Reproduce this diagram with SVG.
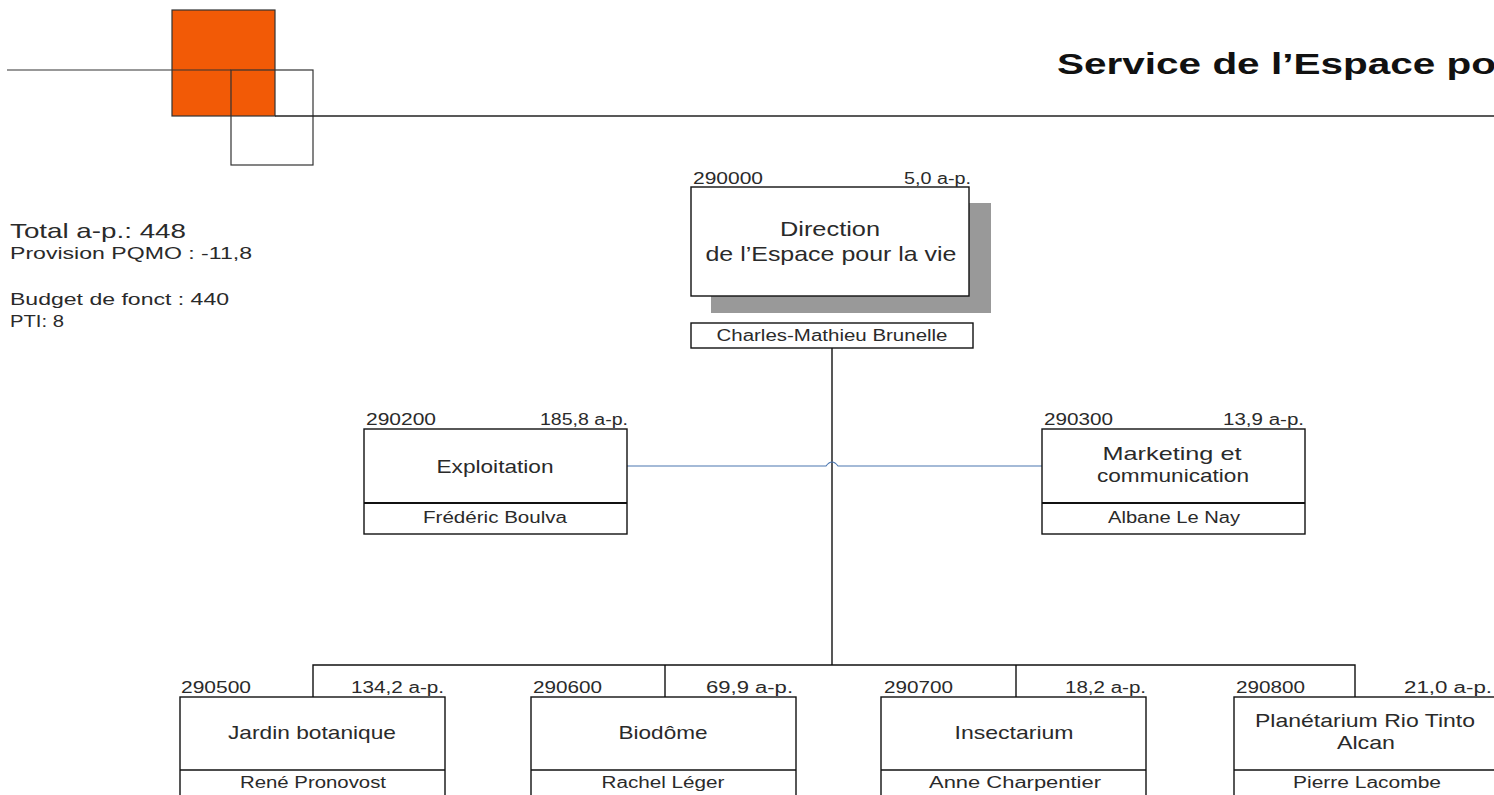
<svg xmlns="http://www.w3.org/2000/svg" width="1494" height="795" viewBox="0 0 1494 795">
<style>
text{font-family:"Liberation Sans",Arial,sans-serif;fill:#2a2a2a}
.box{fill:#fff;stroke:#111;stroke-width:1.4}
.ln{stroke:#111;stroke-width:1.4;fill:none}
.lbl{font-size:16px}
.t{font-size:19px;text-anchor:middle}
.n{font-size:16px;text-anchor:middle}
.r{text-anchor:end}
</style>
<rect width="1494" height="795" fill="#fff"/>
<g id="logo">
<rect x="172" y="10" width="103" height="106" fill="#f25a06" stroke="#333" stroke-width="1.2"/>
<rect x="231" y="70" width="82" height="95" fill="none" stroke="#333" stroke-width="1.2"/>
<line x1="7" y1="70" x2="231" y2="70" stroke="#333" stroke-width="1.2"/>
<line x1="275" y1="116" x2="1494" y2="116" stroke="#222" stroke-width="1.4"/>
</g>
<text x="1057" y="74" style="font-size:30px;font-weight:bold;fill:#111" textLength="439" lengthAdjust="spacingAndGlyphs">Service de l’Espace po</text>
<g id="summary">
<text x="10" y="238" style="font-size:21px" textLength="176" lengthAdjust="spacingAndGlyphs">Total a-p.: 448</text>
<text x="10" y="259" style="font-size:17px" textLength="242" lengthAdjust="spacingAndGlyphs">Provision PQMO : -11,8</text>
<text x="10" y="305" style="font-size:17px" textLength="219" lengthAdjust="spacingAndGlyphs">Budget de fonct : 440</text>
<text x="10" y="327" style="font-size:17px" textLength="54" lengthAdjust="spacingAndGlyphs">PTI: 8</text>
</g>
<g id="connectors">
<line class="ln" x1="832" y1="348" x2="832" y2="665"/>
<polyline class="ln" points="313,697 313,665 1355,665 1355,697"/>
<line class="ln" x1="665" y1="665" x2="665" y2="697"/>
<line class="ln" x1="1016" y1="665" x2="1016" y2="697"/>
<path d="M627,466 H826 Q832,458 838,466 H1042" fill="none" stroke="#4a76b0" stroke-width="1.2"/>
</g>
<g id="n290000">
<rect x="711" y="203" width="280" height="110" fill="#999"/>
<rect class="box" x="691" y="187" width="278" height="109"/>
<text x="693" y="184" class="lbl" textLength="70" lengthAdjust="spacingAndGlyphs">290000</text>
<text x="971" y="184" class="lbl r" textLength="67" lengthAdjust="spacingAndGlyphs">5,0 a-p.</text>
<text x="830" y="236" class="t" style="font-size:21px" textLength="100" lengthAdjust="spacingAndGlyphs">Direction</text>
<text x="831" y="261" class="t" style="font-size:21px" textLength="251" lengthAdjust="spacingAndGlyphs">de l’Espace pour la vie</text>
<rect class="box" x="691" y="323" width="282" height="25"/>
<text x="832" y="341" class="n" textLength="231" lengthAdjust="spacingAndGlyphs">Charles-Mathieu Brunelle</text>
</g>
<g id="n290200">
<rect class="box" x="364" y="429" width="263" height="105"/>
<line x1="364" y1="503" x2="627" y2="503" stroke="#111" stroke-width="2.2"/>
<text x="366" y="425" class="lbl" textLength="70" lengthAdjust="spacingAndGlyphs">290200</text>
<text x="628" y="425" class="lbl r" textLength="88" lengthAdjust="spacingAndGlyphs">185,8 a-p.</text>
<text x="495" y="473" class="t" textLength="117" lengthAdjust="spacingAndGlyphs">Exploitation</text>
<text x="495" y="523" class="n" textLength="144" lengthAdjust="spacingAndGlyphs">Frédéric Boulva</text>
</g>
<g id="n290300">
<rect class="box" x="1042" y="429" width="263" height="105"/>
<line x1="1042" y1="503" x2="1305" y2="503" stroke="#111" stroke-width="2.2"/>
<text x="1044" y="425" class="lbl" textLength="69" lengthAdjust="spacingAndGlyphs">290300</text>
<text x="1304" y="425" class="lbl r" textLength="81" lengthAdjust="spacingAndGlyphs">13,9 a-p.</text>
<text x="1172" y="460" class="t" textLength="139" lengthAdjust="spacingAndGlyphs">Marketing et</text>
<text x="1173" y="482" class="t" textLength="152" lengthAdjust="spacingAndGlyphs">communication</text>
<text x="1174" y="523" class="n" textLength="132" lengthAdjust="spacingAndGlyphs">Albane Le Nay</text>
</g>
<g id="n290500">
<rect class="box" x="180" y="697" width="265" height="110"/>
<line class="ln" x1="180" y1="770" x2="445" y2="770"/>
<text x="181" y="693" class="lbl" textLength="70" lengthAdjust="spacingAndGlyphs">290500</text>
<text x="444" y="693" class="lbl r" textLength="93" lengthAdjust="spacingAndGlyphs">134,2 a-p.</text>
<text x="312" y="739" class="t" textLength="168" lengthAdjust="spacingAndGlyphs">Jardin botanique</text>
<text x="313" y="788" class="n" textLength="146" lengthAdjust="spacingAndGlyphs">René Pronovost</text>
</g>
<g id="n290600">
<rect class="box" x="531" y="697" width="265" height="110"/>
<line class="ln" x1="531" y1="770" x2="796" y2="770"/>
<text x="533" y="693" class="lbl" textLength="69" lengthAdjust="spacingAndGlyphs">290600</text>
<text x="793" y="693" class="lbl r" textLength="87" lengthAdjust="spacingAndGlyphs">69,9 a-p.</text>
<text x="663" y="739" class="t" textLength="89" lengthAdjust="spacingAndGlyphs">Biodôme</text>
<text x="663" y="788" class="n" textLength="123" lengthAdjust="spacingAndGlyphs">Rachel Léger</text>
</g>
<g id="n290700">
<rect class="box" x="881" y="697" width="265" height="110"/>
<line class="ln" x1="881" y1="770" x2="1146" y2="770"/>
<text x="884" y="693" class="lbl" textLength="69" lengthAdjust="spacingAndGlyphs">290700</text>
<text x="1146" y="693" class="lbl r" textLength="81" lengthAdjust="spacingAndGlyphs">18,2 a-p.</text>
<text x="1014" y="739" class="t" textLength="119" lengthAdjust="spacingAndGlyphs">Insectarium</text>
<text x="1015" y="788" class="n" textLength="172" lengthAdjust="spacingAndGlyphs">Anne Charpentier</text>
</g>
<g id="n290800">
<rect class="box" x="1234" y="697" width="265" height="110"/>
<line class="ln" x1="1234" y1="770" x2="1499" y2="770"/>
<text x="1236" y="693" class="lbl" textLength="69" lengthAdjust="spacingAndGlyphs">290800</text>
<text x="1492" y="693" class="lbl r" textLength="88" lengthAdjust="spacingAndGlyphs">21,0 a-p.</text>
<text x="1365" y="727" class="t" textLength="220" lengthAdjust="spacingAndGlyphs">Planétarium Rio Tinto</text>
<text x="1366" y="749" class="t" textLength="58" lengthAdjust="spacingAndGlyphs">Alcan</text>
<text x="1367" y="788" class="n" textLength="148" lengthAdjust="spacingAndGlyphs">Pierre Lacombe</text>
</g>
</svg>
